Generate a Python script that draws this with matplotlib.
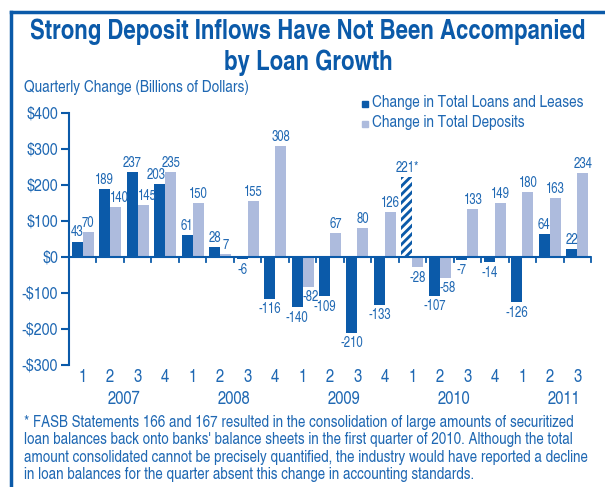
import numpy as np
import matplotlib.pyplot as plt
from matplotlib.lines import Line2D

# Datos
years = ["2007", "2008", "2009", "2010", "2011"]
quarters = ["1", "2", "3", "4", "1", "2", "3", "4", "1", "2", "3", "4",
            "1", "2", "3", "4", "1", "2", "3"]
loans = [43, 189, 237, 203, 61, 28, -6, -116, -140, -109, -210, -133,
         221, -107, -7, -14, -126, 64, 22]
deposits = [70, 140, 145, 235, 150, 7, 155, 308, -82, 67, 80, 126,
            -28, -58, 133, 149, 180, 163, 234]
hatched_idx = 12  # 2010 Q1, FASB 166/167
yticks = [400, 300, 200, 100, 0, -100, -200, -300]

DARK = "#0b5aa9"
LIGHT = "#adbbdd"
TXT = "#1f68b3"
FONT = ["TeX Gyre Heros Cn", "DejaVu Sans"]

plt.rcParams["font.family"] = FONT
plt.rcParams["hatch.linewidth"] = 2.2

W, H = 605, 487
fig = plt.figure(figsize=(W / 100, H / 100), dpi=100)
ax = fig.add_axes([69 / W, 1 - 365 / H, (591 - 69) / W, (365 - 113) / H])

x = np.arange(len(loans))
bw = 0.4
bars_l = ax.bar(x - bw / 2, loans, bw, color=DARK, linewidth=0, zorder=2)
bars_d = ax.bar(x + bw / 2, deposits, bw, color=LIGHT, linewidth=0, zorder=2)
bars_l[hatched_idx].set_hatch("////")
bars_l[hatched_idx].set_edgecolor("white")

# etiquetas de valores
def label(xpos, v, txt, ha="center"):
    off, va = ((0, 1.5), "bottom") if v >= 0 else ((0, -2.5), "top")
    ax.annotate(txt, (xpos, v), xytext=off, textcoords="offset points",
                ha=ha, va=va, fontsize=10, color=TXT, zorder=4)

for i, (l, d) in enumerate(zip(loans, deposits)):
    same = (l >= 0) == (d >= 0)
    tl = f"{l}*" if i == hatched_idx else f"{l}"
    td = f"{d}"
    # si la barra vecina es más alta, alinear la etiqueta hacia fuera
    if same and abs(d) > abs(l) and len(tl) >= 3:
        label(i, l, tl, ha="right")
    else:
        label(i - bw / 2, l, tl)
    if same and abs(l) > abs(d) and len(td) >= 3:
        label(i, d, td, ha="left")
    else:
        label(i + bw / 2, d, td)

ax.set_xlim(-0.5, len(loans) - 0.5)
ax.set_ylim(-300, 400)
ax.set_yticks(yticks)
ax.set_yticklabels([f"${v}" if v >= 0 else f"-${-v}" for v in yticks])
ax.tick_params(axis="y", colors=DARK, labelcolor=TXT, labelsize=12.5,
               length=6, width=1.5, pad=2)
ax.set_xticks([])
for s in ["top", "right", "bottom"]:
    ax.spines[s].set_visible(False)
ax.spines["left"].set_color(DARK)
ax.spines["left"].set_linewidth(1.5)

# línea de cero con marcas
ax.axhline(0, color=DARK, lw=1.5, zorder=3)
for b in np.arange(0.5, len(loans) - 0.5 + 1, 1.0):
    ax.plot([b, b], [0, -14], color=DARK, lw=1.3, zorder=3, clip_on=False)

# etiquetas de trimestres y años
trans = ax.get_xaxis_transform()
q_y = 1 - (382 - 113) / (365 - 113)
y_y = 1 - (404 - 113) / (365 - 113)
for i, q in enumerate(quarters):
    ax.text(i, q_y, q, transform=trans, ha="center", va="baseline",
            fontsize=13, color=TXT, clip_on=False)
for k, yr in enumerate(years):
    ax.text(4 * k + 1.5, y_y, yr, transform=trans, ha="center", va="baseline",
            fontsize=13, color=TXT, clip_on=False)

# título y textos
fig.text(308 / W, 1 - 39 / H, "Strong Deposit Inflows Have Not Been Accompanied",
         ha="center", va="baseline", fontsize=19.5, fontweight="bold", color=DARK)
fig.text(308 / W, 1 - 70 / H, "by Loan Growth",
         ha="center", va="baseline", fontsize=19.5, fontweight="bold", color=DARK)
fig.text(24 / W, 1 - 92 / H, "Quarterly Change (Billions of Dollars)",
         ha="left", va="baseline", fontsize=12, color=TXT)

# leyenda
for yb, txt, c in [(107, "Change in Total Loans and Leases", DARK),
                   (127, "Change in Total Deposits", LIGHT)]:
    fig.patches.append(plt.Rectangle((362 / W, 1 - yb / H), 6 / W, 6 / H,
                                     transform=fig.transFigure, color=c))
    fig.text(372 / W, 1 - yb / H, txt, ha="left", va="baseline",
             fontsize=12, color=TXT)

note = ("* FASB Statements 166 and 167 resulted in the consolidation of large amounts of securitized\n"
        "loan balances back onto banks' balance sheets in the first quarter of 2010. Although the total\n"
        "amount consolidated cannot be precisely quantified, the industry would have reported a decline\n"
        "in loan balances for the quarter absent this change in accounting standards.")
for j, line in enumerate(note.split("\n")):
    fig.text(24 / W, 1 - (427 + 17.4 * j) / H, line, ha="left", va="baseline",
             fontsize=11.8, color=TXT)

# marco
fig.lines.append(Line2D([11 / W, 11 / W], [0, 1 - 12 / H], transform=fig.transFigure,
                        color=DARK, lw=2.5))
fig.lines.append(Line2D([11 / W, 1], [1 - 12 / H, 1 - 12 / H], transform=fig.transFigure,
                        color=DARK, lw=2.5))

fig.savefig("out.png", dpi=100)
